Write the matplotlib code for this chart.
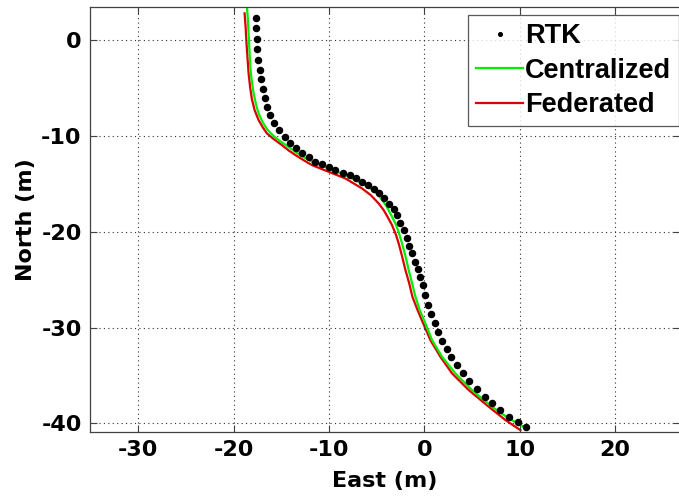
import matplotlib
matplotlib.use("Agg")
import matplotlib.pyplot as plt

plt.rcParams['font.family'] = ['DejaVu Sans']
plt.rcParams['font.weight'] = 'bold'
plt.rcParams['axes.unicode_minus'] = False

# RTK reference track (east, north) in metres
rtk_east = [-17.67, -17.67, -17.60, -17.60, -17.49, -17.28, -17.15, -16.94, -16.68, -16.47,
            -16.16, -15.81, -15.29, -14.66, -14.06, -13.47, -12.84, -12.14, -11.44, -10.75,
            -10.04, -9.34, -8.57, -7.84, -7.18, -6.55, -5.92, -5.32, -4.80, -4.27,
            -3.75, -3.22, -2.88, -2.52, -2.17, -1.83, -1.57, -1.30, -0.94, -0.67,
            -0.42, -0.18, 0.08, 0.38, 0.69, 1.08, 1.43, 1.85, 2.37, 2.83,
            3.42, 4.05, 4.72, 5.52, 6.33, 7.09, 7.97, 8.85, 9.82, 10.66]
rtk_north = [2.27, 1.22, 0.07, -0.94, -2.09, -3.13, -4.07, -5.08, -6.09, -6.96,
             -7.83, -8.70, -9.39, -10.16, -10.78, -11.30, -11.83, -12.24, -12.70, -12.97,
             -13.29, -13.57, -13.85, -14.09, -14.44, -14.79, -15.14, -15.55, -16.00, -16.52,
             -17.15, -17.67, -18.27, -19.07, -19.83, -20.70, -21.50, -22.27, -23.14, -23.94,
             -24.77, -25.57, -26.62, -27.66, -28.60, -29.51, -30.45, -31.39, -32.25, -33.12,
             -33.92, -34.79, -35.56, -36.43, -37.23, -37.92, -38.62, -39.32, -39.84, -40.43]

# Centralized filter estimate
cen_east = [-18.61, -18.51, -18.44, -18.35, -18.26, -18.12, -17.91, -17.65, -17.39, -16.97,
            -16.52, -15.92, -15.29, -14.45, -13.54, -12.67, -11.79, -10.04, -8.29, -6.55,
            -5.63, -4.80, -4.06, -3.54, -3.04, -2.70, -2.35, -1.99, -1.65, -1.30,
            -0.94, -0.49, 0.10, 0.80, 1.85, 3.25, 4.99, 7.09, 8.85, 10.42]
cen_north = [3.48, 2.09, 0.70, -1.04, -2.79, -4.18, -5.56, -6.78, -7.65, -8.56,
             -9.29, -9.92, -10.44, -11.01, -11.66, -12.21, -12.70, -13.39, -14.09, -14.96,
             -15.50, -16.18, -17.22, -18.16, -19.14, -20.04, -21.22, -22.55, -24.01, -25.37,
             -26.79, -28.18, -29.57, -31.32, -33.06, -34.79, -36.53, -38.27, -39.49, -40.36]

# Federated filter estimate
fed_east = [-18.86, -18.75, -18.68, -18.56, -18.44, -18.28, -18.09, -17.81, -17.39, -16.97,
            -16.52, -15.81, -14.94, -14.20, -13.40, -12.60, -11.79, -10.04, -8.29, -6.55,
            -5.63, -4.80, -4.27, -3.85, -3.40, -3.01, -2.70, -2.35, -1.99, -1.60,
            -1.26, -0.72, -0.13, 0.63, 1.68, 2.90, 4.65, 6.75, 8.50, 10.07]
fed_north = [2.79, 1.36, 0.00, -1.77, -3.48, -4.91, -6.19, -7.31, -8.35, -9.08,
             -9.74, -10.33, -10.96, -11.55, -12.08, -12.58, -13.05, -13.75, -14.44, -15.48,
             -16.18, -17.05, -17.75, -18.48, -19.31, -20.25, -21.22, -22.55, -24.01, -25.37,
             -26.79, -28.18, -29.57, -31.32, -33.06, -34.79, -36.53, -38.27, -39.66, -40.71]

xticks = [-30, -20, -10, 0, 10, 20]
yticks = [0, -10, -20, -30, -40]

fig = plt.figure(figsize=(6.79, 4.97), dpi=100)
ax = fig.add_axes([90 / 679, 65 / 497, 590 / 679, 425 / 497])

ax.plot(rtk_east, rtk_north, linestyle='none', marker='o', ms=4.4,
        mfc='black', mec='black', label='RTK', zorder=3)
ax.plot(cen_east, cen_north, color='#00ee00', lw=1.6, label='Centralized', zorder=2)
ax.plot(fed_east, fed_north, color='#dd0000', lw=1.6, label='Federated', zorder=1)

ax.set_xlim(-35.07, 26.8)
ax.set_ylim(-40.9, 3.45)
ax.set_xticks(xticks)
ax.set_yticks(yticks)
ax.tick_params(direction='in', length=5, width=0.8, color='#404040',
               labelsize=16, top=True, right=True, pad=6)
for lab in ax.get_xticklabels() + ax.get_yticklabels():
    lab.set_fontweight('bold')
ax.grid(True, linestyle=(0, (1, 3)), linewidth=0.8, color='#303030')
for s in ax.spines.values():
    s.set_color('#404040')
    s.set_linewidth(0.9)

ax.set_xlabel('East (m)', fontsize=16, fontweight='bold', labelpad=8)
ax.set_ylabel('North (m)', fontsize=16, fontweight='bold', labelpad=4)

leg = ax.legend(loc='upper right', bbox_to_anchor=(1.0, 0.97), bbox_transform=fig.transFigure,
                prop={'family': 'Liberation Sans', 'size': 19.5, 'weight': 'bold'},
                frameon=True, fancybox=False,
                handlelength=1.75, handletextpad=0.05, labelspacing=0.32,
                borderpad=0.3, borderaxespad=0, markerscale=0.6)
leg.get_frame().set_edgecolor('#303030')
leg.get_frame().set_linewidth(0.9)

fig.savefig('out.png', dpi=100)
